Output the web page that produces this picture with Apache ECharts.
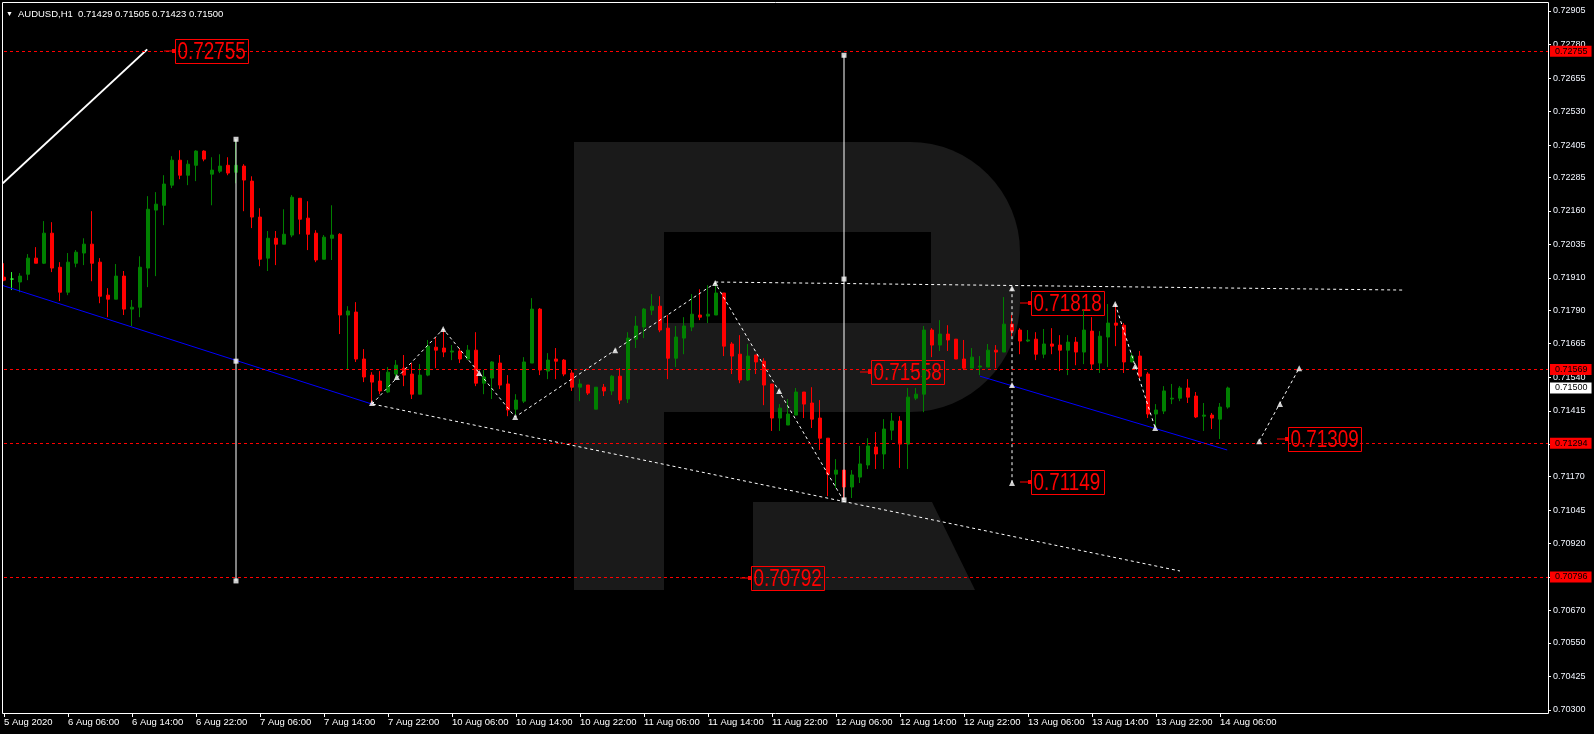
<!DOCTYPE html>
<html><head><meta charset="utf-8">
<script src="https://cdn.jsdelivr.net/npm/echarts@6/dist/echarts.min.js"></script>
<style>html,body{margin:0;padding:0;background:#000;}#c{width:1594px;height:734px;}</style>
</head><body><div id="c"></div>
<script>
const symbolName = 'AUDUSD';
const timeframe = 'H1';

const open = [
0.71913,0.71906,0.71895,0.71924,0.71984,0.71965,0.72077,0.71950,0.71857,0.71965,
0.72003,0.72036,0.71969,0.71846,0.71831,0.71917,0.71794,0.71801,0.71947,0.72163,
0.72181,0.72256,0.72349,0.72293,0.72330,0.72383,0.72297,0.72308,0.72330,0.72304,
0.72327,0.72271,0.72137,0.71984,0.72058,0.72036,0.72070,0.72207,0.72133,0.72077,
0.71980,0.72058,0.72073,0.71772,0.71783,0.71608,0.71548,0.71526,0.71485,0.71552,
0.71574,0.71552,0.71477,0.71548,0.71652,0.71649,0.71634,0.71638,0.71608,0.71641,
0.71518,0.71537,0.71593,0.71515,0.71421,0.71451,0.71593,0.71794,0.71563,0.71608,
0.71604,0.71556,0.71503,0.71511,0.71421,0.71503,0.71489,0.71544,0.71459,0.71682,
0.71727,0.71790,0.71805,0.71723,0.71611,0.71686,0.71727,0.71772,0.71768,0.71772,
0.71854,0.71664,0.71626,0.71530,0.71623,0.71600,0.71515,0.71388,0.71362,0.71399,
0.71485,0.71444,0.71388,0.71313,0.71179,0.71194,0.71131,0.71168,0.71213,0.71280,
0.71254,0.71343,0.71377,0.71291,0.71462,0.71477,0.71716,0.71660,0.71701,0.71682,
0.71608,0.71574,0.71578,0.71578,0.71641,0.71634,0.71738,0.71716,0.71675,0.71682,
0.71626,0.71664,0.71660,0.71641,0.71671,0.71634,0.71712,0.71593,0.71690,0.71742,
0.71734,0.71597,0.71619,0.71552,0.71403,0.71414,0.71459,0.71462,0.71500,0.71470,
0.71395,0.71399,0.71384,0.71429];

const high = [
0.71965,0.71932,0.71928,0.71999,0.72025,0.72122,0.72118,0.71969,0.72003,0.72014,
0.72058,0.72159,0.71984,0.71872,0.71962,0.71936,0.71828,0.71991,0.72215,0.72230,
0.72293,0.72364,0.72386,0.72349,0.72386,0.72386,0.72360,0.72371,0.72360,0.72427,
0.72334,0.72289,0.72170,0.72085,0.72085,0.72166,0.72219,0.72207,0.72196,0.72088,
0.72070,0.72181,0.72077,0.71805,0.71820,0.71645,0.71559,0.71563,0.71578,0.71604,
0.71623,0.71593,0.71589,0.71679,0.71690,0.71716,0.71660,0.71649,0.71660,0.71708,
0.71567,0.71600,0.71623,0.71548,0.71477,0.71615,0.71835,0.71798,0.71630,0.71649,
0.71608,0.71567,0.71533,0.71511,0.71503,0.71515,0.71548,0.71574,0.71708,0.71768,
0.71798,0.71850,0.71842,0.71772,0.71731,0.71764,0.71850,0.71868,0.71883,0.71895,
0.71854,0.71671,0.71697,0.71664,0.71623,0.71611,0.71515,0.71440,0.71459,0.71500,
0.71485,0.71503,0.71455,0.71313,0.71235,0.71194,0.71194,0.71284,0.71313,0.71336,
0.71384,0.71407,0.71395,0.71500,0.71500,0.71731,0.71723,0.71753,0.71734,0.71682,
0.71679,0.71649,0.71619,0.71664,0.71660,0.71839,0.71772,0.71723,0.71716,0.71708,
0.71720,0.71723,0.71697,0.71697,0.71690,0.71790,0.71764,0.71712,0.71813,0.71813,
0.71742,0.71630,0.71638,0.71559,0.71440,0.71507,0.71515,0.71507,0.71533,0.71485,
0.71444,0.71407,0.71444,0.71505];

const low = [
0.71898,0.71865,0.71857,0.71902,0.71965,0.71962,0.71932,0.71824,0.71846,0.71950,
0.71958,0.71898,0.71816,0.71764,0.71831,0.71772,0.71731,0.71764,0.71876,0.71917,
0.72107,0.72245,0.72278,0.72256,0.72271,0.72345,0.72181,0.72301,0.72293,0.72263,
0.72159,0.72096,0.71954,0.71936,0.71958,0.72036,0.72062,0.72073,0.72014,0.71969,
0.71980,0.71977,0.71701,0.71570,0.71597,0.71522,0.71436,0.71477,0.71481,0.71530,
0.71507,0.71459,0.71477,0.71544,0.71574,0.71615,0.71604,0.71593,0.71604,0.71507,
0.71477,0.71459,0.71496,0.71395,0.71399,0.71444,0.71593,0.71548,0.71533,0.71533,
0.71544,0.71489,0.71451,0.71474,0.71421,0.71470,0.71474,0.71440,0.71444,0.71649,
0.71686,0.71772,0.71708,0.71533,0.71578,0.71626,0.71712,0.71753,0.71742,0.71772,
0.71619,0.71552,0.71518,0.71526,0.71552,0.71436,0.71340,0.71340,0.71362,0.71399,
0.71388,0.71351,0.71269,0.71097,0.71127,0.71083,0.71090,0.71146,0.71198,0.71198,
0.71198,0.71306,0.71202,0.71198,0.71455,0.71410,0.71615,0.71638,0.71638,0.71608,
0.71567,0.71574,0.71548,0.71578,0.71574,0.71634,0.71693,0.71626,0.71671,0.71604,
0.71611,0.71626,0.71563,0.71548,0.71585,0.71589,0.71567,0.71556,0.71578,0.71656,
0.71556,0.71597,0.71537,0.71388,0.71351,0.71403,0.71440,0.71451,0.71444,0.71388,
0.71340,0.71347,0.71310,0.71423];

const close = [
0.71902,0.71906,0.71917,0.71984,0.71965,0.72077,0.71947,0.71857,0.71969,0.72006,
0.72036,0.71965,0.71842,0.71831,0.71917,0.71794,0.71801,0.71950,0.72166,0.72185,
0.72260,0.72349,0.72293,0.72334,0.72383,0.72353,0.72312,0.72327,0.72301,0.72330,
0.72275,0.72137,0.71980,0.72058,0.72036,0.72073,0.72211,0.72129,0.72073,0.71977,
0.72062,0.72070,0.71772,0.71787,0.71608,0.71541,0.71522,0.71489,0.71559,0.71585,
0.71548,0.71477,0.71548,0.71656,0.71641,0.71634,0.71638,0.71608,0.71641,0.71518,
0.71541,0.71597,0.71511,0.71418,0.71455,0.71597,0.71794,0.71567,0.71604,0.71600,
0.71552,0.71503,0.71515,0.71481,0.71503,0.71489,0.71544,0.71455,0.71686,0.71731,
0.71794,0.71805,0.71716,0.71611,0.71690,0.71731,0.71775,0.71764,0.71775,0.71854,
0.71656,0.71619,0.71530,0.71619,0.71597,0.71511,0.71388,0.71425,0.71403,0.71485,
0.71440,0.71384,0.71313,0.71179,0.71194,0.71131,0.71176,0.71217,0.71284,0.71254,
0.71347,0.71377,0.71291,0.71466,0.71477,0.71716,0.71660,0.71701,0.71679,0.71608,
0.71574,0.71615,0.71582,0.71641,0.71634,0.71738,0.71712,0.71675,0.71679,0.71626,
0.71664,0.71656,0.71641,0.71671,0.71634,0.71716,0.71589,0.71693,0.71742,0.71734,
0.71597,0.71619,0.71544,0.71403,0.71418,0.71489,0.71462,0.71500,0.71466,0.71392,
0.71399,0.71388,0.71429,0.71500];

const xTickLabels = ['5 Aug 2020','6 Aug 06:00','6 Aug 14:00','6 Aug 22:00','7 Aug 06:00','7 Aug 14:00','7 Aug 22:00',
  '10 Aug 06:00','10 Aug 14:00','10 Aug 22:00','11 Aug 06:00','11 Aug 14:00','11 Aug 22:00','12 Aug 06:00',
  '12 Aug 14:00','12 Aug 22:00','13 Aug 06:00','13 Aug 14:00','13 Aug 22:00','14 Aug 06:00'];
const barsPerXTick = 8;
const yTickLabels = ['0.70300','0.70425','0.70550','0.70670','0.70795','0.70920','0.71045','0.71170','0.71290',
  '0.71415','0.71540','0.71665','0.71790','0.71910','0.72035','0.72160','0.72285','0.72405','0.72530','0.72655',
  '0.72780','0.72905'];

const levelLines = [0.72755, 0.71569, 0.71294, 0.70796];
const bidPrice = 0.71500;
const textLabels = [[20, 0.72755], [107, 0.71558], [127, 0.71818], [127, 0.71149], [92, 0.70792], [159.1, 0.71309]];

const solidTrend = [[-0.16, 0.72263], [17.9, 0.72762]];
const blueTrend1 = [[-0.16, 0.71882], [46, 0.71440]];
const blueTrend2 = [[122, 0.71544], [152.9, 0.71269]];
const zigzagA = [[46, 0.71440], [54.9, 0.71720], [63.9, 0.71392], [88.9, 0.71891], [104.9, 0.71083]];
const lowerTrend = [[46.1, 0.71440], [147, 0.70818]];
const upperTrend = [[88.9, 0.71895], [174.9, 0.71865]];
const measureDotted = [[126, 0.71872], [126, 0.71146]];
const zigzagB = [[138.9, 0.71813], [143.9, 0.71351]];
const projection = [[156.9, 0.71302], [161.9, 0.71574]];
const verticalA = [[29, 0.72427], [29, 0.70781]];
const verticalB = [[105, 0.72740], [105, 0.71083]];
const squareMarks = [[29, 0.72427], [29, 0.71600], [29, 0.70781], [105, 0.72740], [105, 0.71906], [105, 0.71083]];
const arrowMarks = [[46, 0.71444], [49.1, 0.71541], [54.9, 0.71720], [59.4, 0.71556], [63.9, 0.71392], [76.4, 0.71641],
  [88.9, 0.71891], [96.9, 0.71489], [126, 0.71872], [126, 0.71511], [126, 0.71146], [138.9, 0.71813],
  [141.4, 0.71582], [143.9, 0.71351], [156.9, 0.71302], [159.5, 0.71440], [161.9, 0.71574]];

const FONT = "'Liberation Sans', Arial, sans-serif";
const fmt = v => v.toFixed(5);
const last = open.length - 1;

const candleData = open.map((o, i) => [i, o, close[i], low[i], high[i]]);

function lineSeries(data, color, width, type, extra) {
  return Object.assign({ type: 'line', data, showSymbol: false, silent: true, clip: false, z: 4,
    lineStyle: { color, width, type }, animation: false }, extra || {});
}

const levelMarkLine = {
  silent: true, symbol: 'none', animation: false, precision: 5,
  lineStyle: { color: '#ff0000', type: [3, 3], width: 1 },
  label: { show: true, position: 'end', distance: 2, formatter: p => fmt(p.value),
    backgroundColor: '#ff0000', color: '#000000', fontSize: 9, fontFamily: FONT, lineHeight: 9, padding: [1, 4, 1, 5] },
  data: levelLines.map(v => ({ yAxis: v })).concat([{ yAxis: bidPrice, lineStyle: { color: 'rgba(0,0,0,0)' },
    label: { backgroundColor: '#ffffff', color: '#000000' } }])
};

const logoGraphics = [
  { type: 'rect', z: 0, silent: true, shape: { x: 574, y: 142, width: 446, height: 270, r: [0, 110, 110, 0] }, style: { fill: '#1a1a1a' } },
  { type: 'rect', z: 0, silent: true, shape: { x: 574, y: 142, width: 90, height: 448 }, style: { fill: '#1a1a1a' } },
  { type: 'polygon', z: 0, silent: true, shape: { points: [[753, 502], [932, 502], [975, 590], [753, 590]] }, style: { fill: '#1a1a1a' } },
  { type: 'rect', z: 1, silent: true, shape: { x: 664, y: 232, width: 267, height: 91 }, style: { fill: '#000000' } },
  { type: 'rect', z: 50, silent: true, shape: { x: 2.5, y: 2.5, width: 1546, height: 711 }, style: { fill: 'none', stroke: '#ffffff', lineWidth: 1 } }
];

const chart = echarts.init(document.getElementById('c'), null, { renderer: 'canvas' });
chart.setOption({
  backgroundColor: '#000000',
  animation: false,
  title: {
    text: '{a|▼} {b|' + symbolName + ',' + timeframe + '  ' + fmt(open[last]) + ' ' + fmt(high[last]) + ' ' + fmt(low[last]) + ' ' + fmt(close[last]) + '}',
    left: 6, top: 5, padding: 0,
    textStyle: { fontWeight: 'normal', rich: {
      a: { color: '#ffffff', fontSize: 7, fontFamily: FONT, fontWeight: 'normal' },
      b: { color: '#ffffff', fontSize: 9.5, fontFamily: FONT, fontWeight: 'normal' } } }
  },
  grid: { left: 4, right: 46, top: 11, bottom: 24 },
  xAxis: {
    type: 'value', min: 0, max: 193, interval: barsPerXTick,
    offset: 3,
    axisLine: { show: false, onZero: false },
    splitLine: { show: false },
    axisTick: { show: true, length: 4, lineStyle: { color: '#ffffff' }, customValues: xTickLabels.map((_, i) => i * barsPerXTick) },
    axisLabel: { show: true, align: 'left', margin: 4, color: '#ffffff', fontSize: 9.5, fontFamily: FONT,
      customValues: xTickLabels.map((_, i) => i * barsPerXTick),
      formatter: v => xTickLabels[Math.round(v / barsPerXTick)] || '' }
  },
  yAxis: {
    type: 'value', position: 'right', min: 0.70300, max: 0.72905,
    axisLine: { show: false, onZero: false },
    splitLine: { show: false },
    axisTick: { show: true, length: 3, lineStyle: { color: '#ffffff' }, customValues: yTickLabels.map(Number) },
    axisLabel: { show: true, margin: 5, color: '#f2f6ff', fontSize: 9, fontFamily: FONT,
      customValues: yTickLabels.map(Number), formatter: v => fmt(v) }
  },
  graphic: logoGraphics,
  series: [
    {
      type: 'candlestick', name: symbolName, data: candleData, encode: { x: 0, y: [1, 2, 3, 4] },
      barWidth: 4, clip: true, z: 3,
      itemStyle: { color: '#008000', color0: '#ff0000', borderColor: '#008000', borderColor0: '#ff0000', borderColorDoji: '#33ff33', borderWidth: 1 }
    },
    lineSeries(solidTrend, '#ffffff', 2, 'solid', { markLine: levelMarkLine }),
    lineSeries(blueTrend1, '#0000ff', 1, 'solid'),
    lineSeries(blueTrend2, '#0000ff', 1, 'solid'),
    lineSeries(zigzagA, '#ffffff', 1, [3, 3]),
    lineSeries(lowerTrend, '#ffffff', 1, [3, 3]),
    lineSeries(upperTrend, '#ffffff', 1, [3, 3]),
    lineSeries(measureDotted, '#ffffff', 1, [3, 3]),
    lineSeries(zigzagB, '#ffffff', 1, [3, 3]),
    lineSeries(projection, '#ffffff', 1, [3, 3]),
    lineSeries(verticalA, '#ffffff', 1, 'solid'),
    lineSeries(verticalB, '#ffffff', 1, 'solid'),
    { type: 'scatter', data: squareMarks, symbol: 'rect', symbolSize: 5, clip: false, z: 6, silent: true,
      itemStyle: { color: '#ffffff' } },
    { type: 'scatter', data: arrowMarks, symbol: 'triangle', symbolSize: 6, clip: false, z: 6, silent: true,
      itemStyle: { color: '#ffffff' } }
  ]
});

// Text label objects positioned through the chart's own scales
const labelGraphics = textLabels.map(([k, price]) => {
  const [px, py] = chart.convertToPixel({ gridIndex: 0 }, [k, price]);
  return { type: 'group', x: Math.round(px), y: Math.round(py), z: 2, silent: true, children: [
    { type: 'rect', z: 2, shape: { x: 0, y: -0.5, width: 8, height: 1 }, style: { fill: '#ff0000' } },
    { type: 'rect', z: 2, shape: { x: 8, y: -2, width: 3, height: 4 }, style: { fill: '#ff0000' } },
    { type: 'rect', z: 2, shape: { x: 11.5, y: -11.5, width: 73, height: 24 }, style: { fill: 'none', stroke: '#ff0000', lineWidth: 1 } },
    { type: 'text', z: 2, x: 13.5, y: 1.5, scaleX: 0.82, style: { text: fmt(price), fill: '#ff0000', fontSize: 23,
      fontFamily: FONT, verticalAlign: 'middle', align: 'left' } }
  ] };
});
chart.setOption({ graphic: logoGraphics.concat(labelGraphics) });
</script>
</body></html>
